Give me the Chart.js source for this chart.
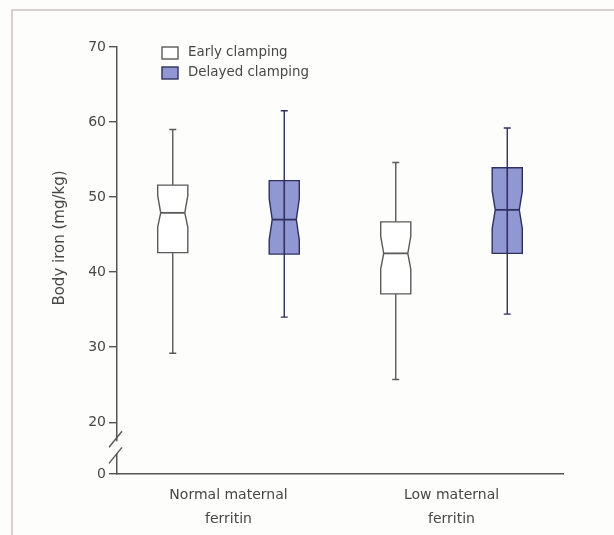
<!DOCTYPE html>
<html>
<head>
<meta charset="utf-8">
<script src="https://cdn.jsdelivr.net/npm/chart.js@4"></script>
<style>
html, body { margin: 0; padding: 0; background: #fdfdfc; }
#wrap { position: relative; width: 614px; height: 535px; overflow: hidden; }
#frame { position: absolute; left: 11px; top: 9px; width: 700px; height: 600px;
         border-left: 2px solid #d8d0d0; border-top: 2px solid #d8d0d0; }
canvas { position: absolute; left: 0; top: 0; }
</style>
</head>
<body>
<div id="wrap"><div id="frame"></div><canvas id="chart" width="614" height="535"></canvas></div>
<script>
// categories and series
const groups = [['Normal maternal', 'ferritin'], ['Low maternal', 'ferritin']];
const seriesNames = ['Early clamping', 'Delayed clamping'];

// early clamping box stats (mg/kg)
const earlyMin = [29.2, 25.7];
const earlyQ1 = [42.6, 37.1];
const earlyNotchLo = [46.0, 40.4];
const earlyMedian = [47.9, 42.5];
const earlyNotchHi = [50.2, 44.8];
const earlyQ3 = [51.6, 46.7];
const earlyMax = [59.0, 54.6];

// delayed clamping box stats (mg/kg)
const delayedMin = [34.0, 34.4];
const delayedQ1 = [42.4, 42.5];
const delayedNotchLo = [44.3, 45.8];
const delayedMedian = [47.0, 48.3];
const delayedNotchHi = [49.8, 50.8];
const delayedQ3 = [52.2, 53.9];
const delayedMax = [61.5, 59.2];

// y axis ticks, axis is broken below 20
const yTicks = [20, 30, 40, 50, 60, 70];
const yBreak = 13.1; // bottom of the axis, labelled 0

const textColor = '#474747';
const axisColor = '#555';
const fontFamily = "'DejaVu Sans', sans-serif";

function stats(min, q1, nlo, med, nhi, q3, max) {
    return { min: min, q1: q1, nlo: nlo, med: med, nhi: nhi, q3: q3, max: max };
}

// draws the notched boxes on top of the (invisible) floating bars
const notchedBoxes = {
    id: 'notchedBoxes',
    afterDatasetsDraw(chart) {
        const ctx = chart.ctx;
        const y = chart.scales.y;
        chart.data.datasets.forEach(function(ds, di) {
            const meta = chart.getDatasetMeta(di);
            const s = ds.stats;
            meta.data.forEach(function(bar, i) {
                const cx = bar.x;
                const half = bar.width / 2;
                const l = cx - half, r = cx + half;
                const inset = half * 0.2;
                const pMin = y.getPixelForValue(s.min[i]);
                const pQ1 = y.getPixelForValue(s.q1[i]);
                const pLo = y.getPixelForValue(s.nlo[i]);
                const pMed = y.getPixelForValue(s.med[i]);
                const pHi = y.getPixelForValue(s.nhi[i]);
                const pQ3 = y.getPixelForValue(s.q3[i]);
                const pMax = y.getPixelForValue(s.max[i]);

                ctx.save();
                ctx.lineWidth = 1.4;
                ctx.strokeStyle = ds.lineColor;

                // whiskers + caps
                ctx.beginPath();
                ctx.moveTo(cx, pQ3); ctx.lineTo(cx, pMax);
                ctx.moveTo(cx, pQ1); ctx.lineTo(cx, pMin);
                ctx.moveTo(cx - 3.5, pMax); ctx.lineTo(cx + 3.5, pMax);
                ctx.moveTo(cx - 3.5, pMin); ctx.lineTo(cx + 3.5, pMin);
                ctx.stroke();

                // notched box
                ctx.beginPath();
                ctx.moveTo(l, pQ3);
                ctx.lineTo(r, pQ3);
                ctx.lineTo(r, pHi);
                ctx.lineTo(r - inset, pMed);
                ctx.lineTo(r, pLo);
                ctx.lineTo(r, pQ1);
                ctx.lineTo(l, pQ1);
                ctx.lineTo(l, pLo);
                ctx.lineTo(l + inset, pMed);
                ctx.lineTo(l, pHi);
                ctx.closePath();
                ctx.fillStyle = ds.boxFill;
                ctx.fill();
                ctx.stroke();

                // line through the box
                if (ds.lineThrough) {
                    ctx.lineWidth = 1.6;
                    ctx.beginPath();
                    ctx.moveTo(cx, pQ3); ctx.lineTo(cx, pQ1);
                    ctx.stroke();
                }

                // median
                ctx.lineWidth = 1.8;
                ctx.beginPath();
                ctx.moveTo(l + inset, pMed); ctx.lineTo(r - inset, pMed);
                ctx.stroke();
                ctx.restore();
            });
        });
    }
};

// legend, y title and axis break marks
const decorations = {
    id: 'decorations',
    afterDraw(chart) {
        const ctx = chart.ctx;
        const area = chart.chartArea;
        const y = chart.scales.y;
        ctx.save();

        // legend inside plot area
        ctx.font = '13.4px ' + fontFamily;
        ctx.textBaseline = 'middle';
        chart.data.datasets.forEach(function(ds, i) {
            const bx = area.left + 45, by = area.top + i * 20;
            ctx.fillStyle = ds.boxFill;
            ctx.fillRect(bx, by, 16, 12);
            ctx.strokeStyle = ds.lineColor;
            ctx.lineWidth = 1.4;
            ctx.strokeRect(bx, by, 16, 12);
            ctx.fillStyle = textColor;
            ctx.fillText(ds.label, bx + 26, by + 6);
        });

        // y axis title
        ctx.save();
        ctx.translate(60, 238);
        ctx.rotate(-Math.PI / 2);
        ctx.textAlign = 'center';
        ctx.textBaseline = 'middle';
        ctx.font = '15px ' + fontFamily;
        ctx.fillStyle = textColor;
        ctx.fillText('Body iron (mg/kg)', 0, 0);
        ctx.restore();

        // axis break
        const top = y.getPixelForValue(20), bottom = y.bottom;
        const s1 = top + (bottom - top) * 0.33;
        const s2 = top + (bottom - top) * 0.64;
        const x = area.left;
        ctx.fillStyle = '#fdfdfc';
        ctx.fillRect(x - 2, s1 + 2, 4, s2 - s1 - 4);
        ctx.strokeStyle = axisColor;
        ctx.lineWidth = 1.4;
        ctx.beginPath();
        ctx.moveTo(x - 8, s1 + 8); ctx.lineTo(x + 5, s1 - 8);
        ctx.moveTo(x - 8, s2 + 8); ctx.lineTo(x + 5, s2 - 8);
        ctx.stroke();
        ctx.restore();
    }
};

new Chart(document.getElementById('chart'), {
    type: 'bar',
    data: {
        labels: groups,
        datasets: [{
            label: seriesNames[0],
            data: earlyQ1.map((v, i) => [v, earlyQ3[i]]),
            stats: stats(earlyMin, earlyQ1, earlyNotchLo, earlyMedian, earlyNotchHi, earlyQ3, earlyMax),
            backgroundColor: 'rgba(0,0,0,0)',
            borderWidth: 0,
            boxFill: '#ffffff',
            lineColor: '#5a5a5a',
            lineThrough: false
        }, {
            label: seriesNames[1],
            data: delayedQ1.map((v, i) => [v, delayedQ3[i]]),
            stats: stats(delayedMin, delayedQ1, delayedNotchLo, delayedMedian, delayedNotchHi, delayedQ3, delayedMax),
            backgroundColor: 'rgba(0,0,0,0)',
            borderWidth: 0,
            boxFill: '#9197d2',
            lineColor: '#2e3160',
            lineThrough: true
        }]
    },
    options: {
        responsive: false,
        animation: false,
        categoryPercentage: 1.0,
        barPercentage: 0.27,
        layout: { padding: { left: 12, top: 47, right: 51, bottom: 0 } },
        plugins: {
            legend: { display: false },
            tooltip: { enabled: false }
        },
        scales: {
            x: {
                grid: { display: false },
                border: { display: true, color: axisColor, width: 1.5 },
                ticks: { color: textColor, font: { family: fontFamily, size: 14, lineHeight: 1.75 }, padding: 1 },
                afterFit: function(scale) { scale.height = 61; }
            },
            y: {
                min: yBreak,
                max: 70,
                grid: { display: true, drawOnChartArea: false, drawTicks: true, tickLength: 8,
                        color: axisColor, lineWidth: 1.4 },
                border: { display: true, color: axisColor, width: 1.5 },
                ticks: {
                    color: textColor,
                    font: { family: fontFamily, size: 14 },
                    padding: 3,
                    callback: function(v) { return v === yBreak ? '0' : v; }
                },
                afterBuildTicks: function(scale) {
                    scale.ticks = [yBreak].concat(yTicks).map(v => ({ value: v }));
                },
                afterFit: function(scale) { scale.width = 105; }
            }
        }
    },
    plugins: [notchedBoxes, decorations]
});
</script>
</body>
</html>
